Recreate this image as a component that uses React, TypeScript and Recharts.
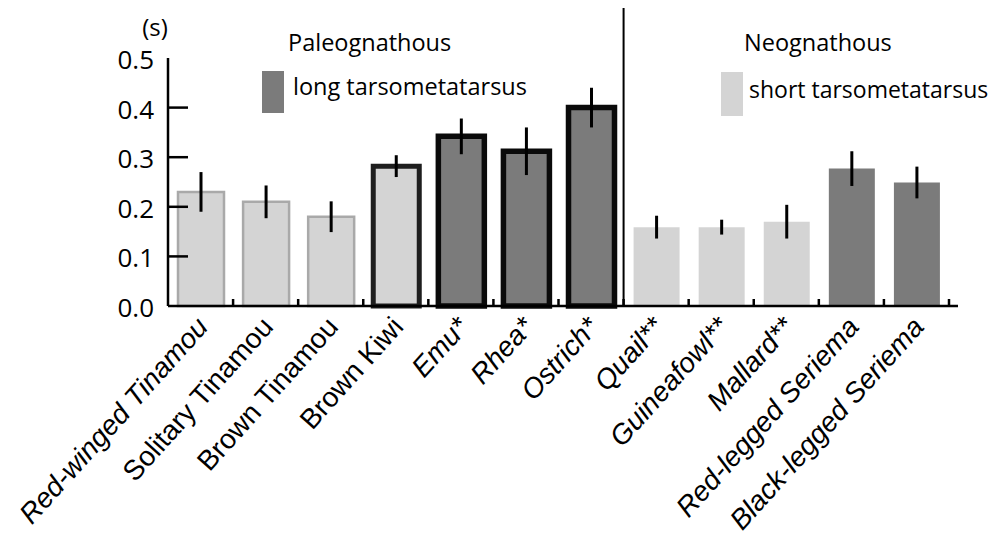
import React from 'react';
import { BarChart, Bar, XAxis, YAxis, Cell, ErrorBar } from 'recharts';

// species on the x axis, in plotting order
const categories = [
  'Red-winged Tinamou',
  'Solitary Tinamou',
  'Brown Tinamou',
  'Brown Kiwi',
  'Emu*',
  'Rhea*',
  'Ostrich*',
  'Quail**',
  'Guineafowl**',
  'Mallard**',
  'Red-legged Seriema',
  'Black-legged Seriema',
];
// mean duration (s) and its error
const duration = [0.23, 0.21, 0.18, 0.282, 0.342, 0.312, 0.4, 0.159, 0.159, 0.17, 0.277, 0.249];
const durationErr = [0.04, 0.033, 0.031, 0.022, 0.036, 0.048, 0.04, 0.023, 0.015, 0.034, 0.035, 0.032];
// tarsometatarsus length group
const tarsus = ['short', 'short', 'short', 'short', 'long', 'long', 'long', 'short', 'short', 'short', 'long', 'long'];
// outline group of each bar
const outline = ['thin', 'thin', 'thin', 'kiwi', 'heavy', 'heavy', 'heavy', 'none', 'none', 'none', 'none', 'none'];
const yTicks = [0, 0.1, 0.2, 0.3, 0.4, 0.5];

const data = categories.map((name, i) => ({ name, value: duration[i], err: durationErr[i] }));

const FILL: Record<string, string> = { long: '#7b7b7b', short: '#d4d4d4' };
const STROKE: Record<string, string> = { thin: '#a9a9a9', kiwi: '#1e1e1e', heavy: '#0a0a0a', none: 'none' };
const STROKE_W: Record<string, number> = { thin: 2.5, kiwi: 5, heavy: 5.5, none: 0 };
const ITALIC = new Set([
  'Red-winged Tinamou', 'Emu*', 'Rhea*', 'Ostrich*', 'Quail**', 'Guineafowl**',
  'Mallard**', 'Red-legged Seriema', 'Black-legged Seriema',
]);

const PAD_RIGHT = 9;
const SANS = '"Open Sans", "Noto Sans", sans-serif';
const ARIAL = '"Liberation Sans", Arial, sans-serif';

const XTick = (props: any) => {
  const { x, y, payload, index, width, visibleTicksCount } = props;
  const band = width && visibleTicksCount ? (width - PAD_RIGHT) / visibleTicksCount : 65;
  const edge = x + band / 2;
  return (
    <g>
      <line x1={edge} x2={edge} y1={y} y2={y - 7} stroke="#000" strokeWidth={2.5} />
      {index === 6 && <line x1={edge} x2={edge} y1={y} y2={0} stroke="#000" strokeWidth={2} />}
      <text
        transform={`translate(${x + 9},${y + 22}) rotate(-48)`}
        textAnchor="end"
        fontSize={28}
        fontFamily={ARIAL}
        fontStyle={ITALIC.has(payload.value) ? 'italic' : 'normal'}
        fill="#000"
      >
        {payload.value}
      </text>
    </g>
  );
};

const YTick = (props: any) => {
  const { x, y, payload } = props;
  const v = payload.value;
  return (
    <g>
      {v > 0 && v < 0.5 && <line x1={x} x2={x + 20} y1={y} y2={y} stroke="#000" strokeWidth={2.5} />}
      <text x={x - 14} y={y + 1} textAnchor="end" dominantBaseline="central" fontSize={26} fontFamily={SANS} fill="#000">
        {v.toFixed(1)}
      </text>
    </g>
  );
};

const Notes = () => (
  <g fontFamily={SANS} fill="#000">
    <text x={147} y={18} fontSize={24} textAnchor="middle" dominantBaseline="central">(s)</text>
    <text x={280} y={34} fontSize={23.5} dominantBaseline="central">Paleognathous</text>
    <rect x={254} y={63} width={22} height={42} fill={FILL.long} />
    <text x={285} y={78} fontSize={23.5} dominantBaseline="central">long tarsometatarsus</text>
    <text x={736} y={34} fontSize={23.5} dominantBaseline="central">Neognathous</text>
    <rect x={713} y={64} width={22} height={44} fill={FILL.short} />
    <text x={741} y={81} fontSize={23} dominantBaseline="central">short tarsometatarsus</text>
  </g>
);

export default function App() {
  return (
    <BarChart width={980} height={530} data={data} margin={{ top: 50, right: 30, bottom: 0, left: 0 }}>
      <XAxis
        dataKey="name"
        interval={0}
        height={232}
        tick={<XTick />}
        tickLine={false}
        tickSize={0}
        tickMargin={0}
        padding={{ left: 0, right: PAD_RIGHT }}
        axisLine={{ stroke: '#000', strokeWidth: 2.5 }}
      />
      <YAxis
        domain={[0, 0.5]}
        ticks={yTicks}
        interval={0}
        width={160}
        tick={<YTick />}
        tickLine={false}
        tickSize={0}
        tickMargin={0}
        axisLine={{ stroke: '#000', strokeWidth: 2.5 }}
      />
      <Bar dataKey="value" barSize={46} isAnimationActive={false}>
        {data.map((d, i) => (
          <Cell key={d.name} fill={FILL[tarsus[i]]} stroke={STROKE[outline[i]]} strokeWidth={STROKE_W[outline[i]]} />
        ))}
        <ErrorBar dataKey="err" width={0} stroke="#000" strokeWidth={3} direction="y" />
      </Bar>
      <Notes />
    </BarChart>
  );
}
